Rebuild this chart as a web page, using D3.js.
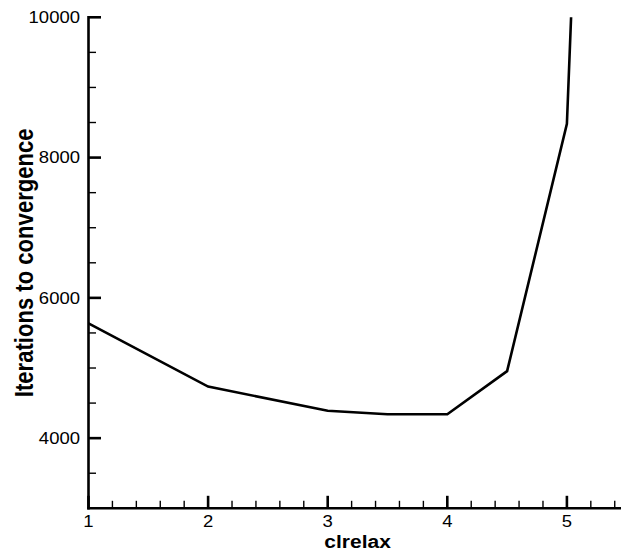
<!DOCTYPE html>
<html>
<head>
<meta charset="utf-8">
<script src="https://cdn.jsdelivr.net/npm/d3@7"></script>
<style>
  html, body { margin: 0; padding: 0; background: #fff; }
  svg { display: block; font-family: "Liberation Sans", Arial, Helvetica, sans-serif; }
</style>
</head>
<body>
<svg id="chart" width="621" height="558"></svg>
<script>
// clrelax sweep: iterations needed to converge
const clrelax = [1, 2, 3, 3.5, 4, 4.5, 5, 5.035];
const iterations = [5635, 4735, 4390, 4340, 4340, 4955, 8480, 10000];

const xMajorTicks = [1, 2, 3, 4, 5];
const yMajorTicks = [4000, 6000, 8000, 10000];

const svg = d3.select("#chart");

// glyphs are drawn slightly compressed vertically
const squash = 0.85;

const plotLeft = 88.5, plotBottom = 508.3, plotTop = 17.3;
const x = d3.scaleLinear().domain([1, 5.5]).range([plotLeft, plotLeft + 4.5 * 119.6]);
const y = d3.scaleLinear().domain([3000, 10000]).range([plotBottom, plotTop]);

const xMinor = d3.range(1, 5.5001, 0.2).map(v => +v.toFixed(2)).filter(v => !xMajorTicks.includes(v));
const yMinor = d3.range(3000, 10001, 500).filter(v => !yMajorTicks.includes(v));

// bottom axis
const gx = svg.append("g").attr("transform", `translate(0,${plotBottom})`);
gx.append("line").attr("x1", plotLeft - 1.3).attr("x2", x(5.5)).attr("stroke", "#000").attr("stroke-width", 2.6);
gx.selectAll(".xminor").data(xMinor).join("line")
  .attr("x1", d => x(d)).attr("x2", d => x(d)).attr("y1", 0).attr("y2", -7.5)
  .attr("stroke", "#000").attr("stroke-width", 1.4);
gx.selectAll(".xmajor").data(xMajorTicks).join("line")
  .attr("x1", d => x(d)).attr("x2", d => x(d)).attr("y1", 0).attr("y2", -12.5)
  .attr("stroke", "#000").attr("stroke-width", 2.6);
gx.selectAll("text").data(xMajorTicks).join("text")
  .attr("transform", d => `translate(${x(d)},19) scale(1,${squash})`)
  .attr("text-anchor", "middle").attr("font-size", 18.5)
  .text(d3.format("d"));

// left axis
const gy = svg.append("g").attr("transform", `translate(${plotLeft},0)`);
gy.append("line").attr("y1", y(3000) + 1.3).attr("y2", y(10000) - 1.3).attr("stroke", "#000").attr("stroke-width", 2.6);
gy.selectAll(".yminor").data(yMinor).join("line")
  .attr("y1", d => y(d)).attr("y2", d => y(d)).attr("x1", 0).attr("x2", 7.5)
  .attr("stroke", "#000").attr("stroke-width", 1.4);
gy.selectAll(".ymajor").data(yMajorTicks).join("line")
  .attr("y1", d => y(d)).attr("y2", d => y(d)).attr("x1", 0).attr("x2", 12.5)
  .attr("stroke", "#000").attr("stroke-width", 2.6);
gy.selectAll("text").data(yMajorTicks).join("text")
  .attr("transform", d => `translate(-8.5,${y(d)}) scale(1,${squash})`)
  .attr("dy", "0.36em")
  .attr("text-anchor", "end").attr("font-size", 18.5)
  .text(d3.format("d"));

// data line
const line = d3.line().x((d, i) => x(clrelax[i])).y(d => y(d));
svg.append("path").datum(iterations)
  .attr("d", line)
  .attr("fill", "none").attr("stroke", "#000").attr("stroke-width", 2.6)
  .attr("stroke-linejoin", "miter");

// axis titles, centred on their axes
svg.append("text")
  .attr("transform", `translate(${(x(1) + x(5.5)) / 2},548) scale(1,${squash})`)
  .attr("text-anchor", "middle").attr("font-size", 21).attr("font-weight", "bold")
  .text("clrelax");
svg.append("text")
  .attr("transform", `translate(33,${(plotTop + plotBottom) / 2}) scale(1,${squash}) rotate(-90)`)
  .attr("text-anchor", "middle").attr("font-size", 26).attr("font-weight", "bold")
  .text("Iterations to convergence");
</script>
</body>
</html>
